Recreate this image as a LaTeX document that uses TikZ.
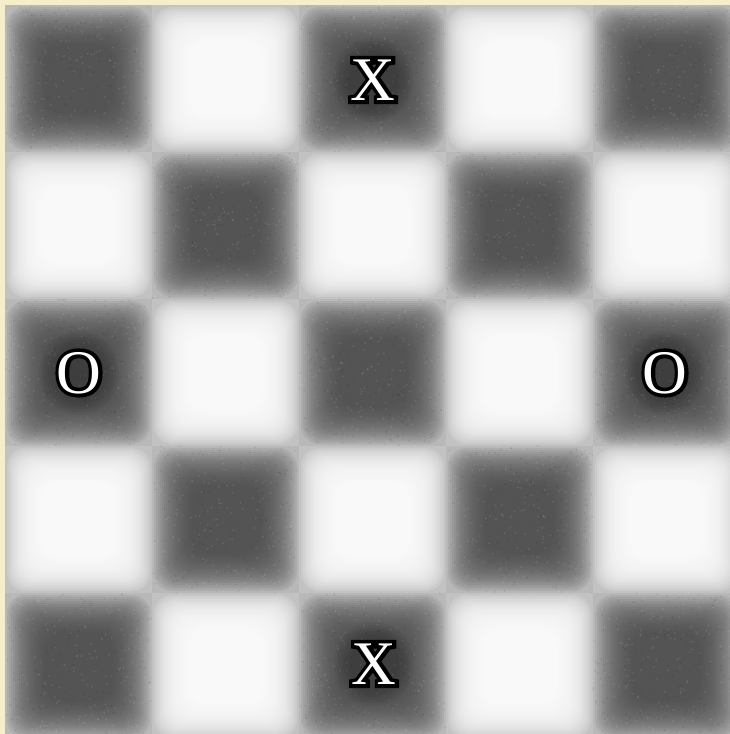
\documentclass[tikz,border=0pt]{standalone}
\usepackage{fontspec}
\setmainfont{Liberation Serif}
\newfontfamily\outlinefont[FakeBold=12]{Liberation Serif}
\usetikzlibrary{calc}
\definecolor{cream}{RGB}{245,238,202}
\definecolor{darkcell}{gray}{0.30}
\definecolor{basedark}{gray}{0.72}
\definecolor{baselight}{gray}{0.76}
\tikzset{
  glyph/.style={font=\fontsize{62}{62}\selectfont, inner sep=0pt, anchor=center, text=white},
  glyphback/.style={font=\outlinefont\fontsize{62}{62}\selectfont, inner sep=0pt, anchor=center, text=black},
}
\newcommand{\boardlabel}[3]{%
  \foreach \s in {1,...,6}{\fill[black,opacity=0.045] (#2) ellipse ({22+3*\s} and {24+3*\s});}
  \node[glyphback] (#1back) at (#2) {#3};
  \node[glyph] (#1) at (#2) {#3};
}
\begin{document}
\begin{tikzpicture}[x=1pt,y=-1pt]
\fill[cream] (0,0) rectangle (730,734);
\useasboundingbox (0,0) rectangle (730,734);
\begin{scope}
\clip (5,5) rectangle (730,734);
\fill[gray!75] (5,5) rectangle (740,740);
\pgfmathsetseed{7}
\foreach \r in {0,...,4}{
  \foreach \c in {0,...,4}{
    \pgfmathsetmacro\xa{5+147*\c}
    \pgfmathsetmacro\ya{5+147*\r}
    \pgfmathtruncatemacro\parity{mod(\r+\c,2)}
    \ifnum\parity=0
      \fill[basedark] (\xa,\ya) rectangle ++(147,147);
      \foreach \i in {1,...,20}{
        \pgfmathsetmacro\ins{2*\i}
        \fill[darkcell,opacity=0.1,rounded corners=18] (\xa+\ins,\ya+\ins) rectangle (\xa+147-\ins,\ya+147-\ins);
      }
      \foreach \k in {1,...,180}{
        \pgfmathsetmacro\px{\xa+147*rnd}
        \pgfmathsetmacro\py{\ya+147*rnd}
        \fill[white,opacity=0.1] (\px,\py) circle (1.0);
        \pgfmathsetmacro\qx{\xa+147*rnd}
        \pgfmathsetmacro\qy{\ya+147*rnd}
        \fill[black,opacity=0.08] (\qx,\qy) circle (1.0);
      }
    \else
      \fill[baselight] (\xa,\ya) rectangle ++(147,147);
      \foreach \i in {1,...,20}{
        \pgfmathsetmacro\ins{2*\i}
        \fill[white,opacity=0.15,rounded corners=18] (\xa+\ins,\ya+\ins) rectangle (\xa+147-\ins,\ya+147-\ins);
      }
    \fi
  }
}
\end{scope}
\boardlabel{x1}{373,80}{X}
\boardlabel{o1}{79,373}{O}
\boardlabel{o2}{665,373}{O}
\boardlabel{x2}{374,664}{X}
\end{tikzpicture}
\end{document}
